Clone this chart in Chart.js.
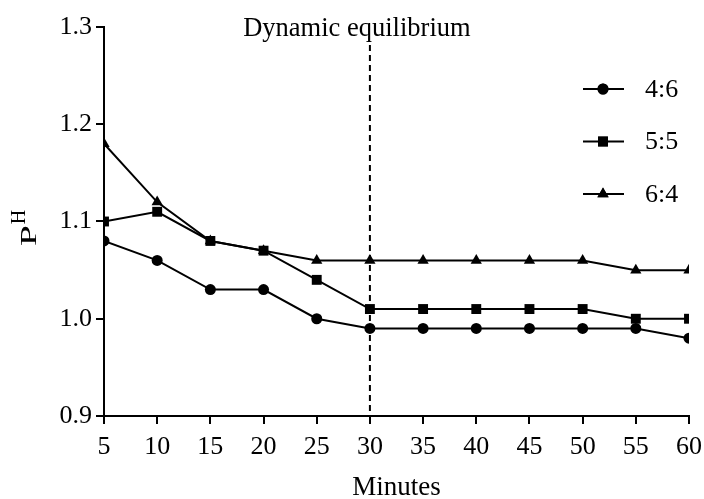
<!DOCTYPE html>
<html>
<head>
<meta charset="utf-8">
<script src="https://cdn.jsdelivr.net/npm/chart.js@4.4.1/dist/chart.umd.min.js"></script>
<style>
    html, body { margin: 0; padding: 0; background: #fff; }
    #wrap { width: 704px; height: 499px; }
</style>
</head>
<body>
<div id="wrap"><canvas id="ph-chart"></canvas></div>
<script>
// 데이터
const minutes = [5, 10, 15, 20, 25, 30, 35, 40, 45, 50, 55, 60];
const ratio46 = [1.08, 1.06, 1.03, 1.03, 1.00, 0.99, 0.99, 0.99, 0.99, 0.99, 0.99, 0.98];
const ratio55 = [1.10, 1.11, 1.08, 1.07, 1.04, 1.01, 1.01, 1.01, 1.01, 1.01, 1.00, 1.00];
const ratio64 = [1.18, 1.12, 1.08, 1.07, 1.06, 1.06, 1.06, 1.06, 1.06, 1.06, 1.05, 1.05];
const seriesNames = ['4:6', '5:5', '6:4'];
const equilibriumAt = 30;
const equilibriumText = 'Dynamic equilibrium';

const SERIF = '"Liberation Serif", "Times New Roman", serif';

function toPoints(values) {
    return minutes.map((m, i) => ({ x: m, y: values[i] }));
}

function makeDataset(label, values, style, radius) {
    return {
        label: label,
        data: toPoints(values),
        borderColor: '#000',
        backgroundColor: '#000',
        borderWidth: 2,
        pointStyle: style,
        pointRadius: radius,
        pointHoverRadius: radius,
        pointBorderWidth: 0,
        tension: 0,
        fill: false
    };
}

// 점선 + 텍스트, y축 제목, 범례
const extrasPlugin = {
    id: 'extras',
    beforeDatasetsDraw(chart) {
        const { ctx, chartArea, scales } = chart;
        const x = scales.x.getPixelForValue(equilibriumAt);
        ctx.save();
        ctx.strokeStyle = '#000';
        ctx.lineWidth = 2;
        ctx.setLineDash([6, 4]);
        ctx.beginPath();
        ctx.moveTo(x, chartArea.top + 18);
        ctx.lineTo(x, chartArea.bottom);
        ctx.stroke();
        ctx.restore();
    },
    afterDraw(chart) {
        const { ctx, chartArea, scales } = chart;
        ctx.save();
        ctx.fillStyle = '#000';

        // 상단 텍스트
        ctx.font = '26.5px ' + SERIF;
        ctx.textAlign = 'center';
        ctx.textBaseline = 'alphabetic';
        ctx.fillText(equilibriumText, scales.x.getPixelForValue(equilibriumAt) - 13, chartArea.top + 9);

        // y축 제목 P^H
        ctx.translate(36, 246);
        ctx.rotate(-Math.PI / 2);
        ctx.textAlign = 'left';
        ctx.save();
        ctx.scale(1.55, 1);
        ctx.font = '24px ' + SERIF;
        ctx.fillText('P', 0, 0);
        const pw = ctx.measureText('P').width * 1.55;
        ctx.restore();
        ctx.font = '20px ' + SERIF;
        ctx.fillText('H', pw + 1, -11);
        ctx.setTransform(1, 0, 0, 1, 0, 0);

        // 범례
        const lx = chartArea.right - 106;
        chart.data.datasets.forEach((ds, i) => {
            const y = chartArea.top + 62 + i * 52.5;
            ctx.strokeStyle = '#000';
            ctx.lineWidth = 2;
            ctx.beginPath();
            ctx.moveTo(lx, y);
            ctx.lineTo(lx + 41, y);
            ctx.stroke();
            Chart.helpers.drawPoint(ctx, {
                pointStyle: ds.pointStyle,
                radius: ds.pointRadius,
                borderWidth: 0,
                rotation: 0
            }, lx + 20, y);
            ctx.fill();
            ctx.font = '26px ' + SERIF;
            ctx.textAlign = 'left';
            ctx.textBaseline = 'middle';
            ctx.fillText(ds.label, lx + 62, y + 1);
        });
        ctx.restore();
    }
};

const ctx = document.getElementById('ph-chart').getContext('2d');
new Chart(ctx, {
    type: 'line',
    data: {
        datasets: [
            makeDataset(seriesNames[0], ratio46, 'circle', 5.5),
            makeDataset(seriesNames[1], ratio55, 'rect', 7),
            makeDataset(seriesNames[2], ratio64, 'triangle', 6.5)
        ]
    },
    options: {
        responsive: true,
        maintainAspectRatio: false,
        animation: false,
        layout: { padding: { top: 27, right: 15, left: 0, bottom: 0 } },
        plugins: {
            legend: { display: false },
            tooltip: { enabled: false }
        },
        scales: {
            x: {
                type: 'linear',
                min: 5,
                max: 60,
                afterFit(scale) {
                    scale.height = 83;
                    scale.paddingLeft = 0;
                    scale.paddingRight = 0;
                },
                ticks: {
                    stepSize: 5,
                    color: '#000',
                    padding: 8,
                    maxRotation: 0,
                    font: { family: SERIF, size: 26 }
                },
                grid: {
                    display: true,
                    drawOnChartArea: false,
                    drawTicks: true,
                    tickLength: 8,
                    color: '#000',
                    lineWidth: 2
                },
                border: { display: true, color: '#000', width: 2 },
                title: {
                    display: true,
                    text: 'Minutes',
                    color: '#000',
                    padding: { top: 0, bottom: 0 },
                    font: { family: SERIF, size: 27, lineHeight: 0.85 }
                }
            },
            y: {
                min: 0.9,
                max: 1.3,
                afterFit(scale) {
                    scale.width = 104;
                    scale.paddingTop = 0;
                    scale.paddingBottom = 0;
                },
                ticks: {
                    stepSize: 0.1,
                    color: '#000',
                    padding: 4,
                    font: { family: SERIF, size: 26 },
                    callback: (v) => v.toFixed(1)
                },
                grid: {
                    display: true,
                    drawOnChartArea: false,
                    drawTicks: true,
                    tickLength: 8,
                    color: '#000',
                    lineWidth: 2
                },
                border: { display: true, color: '#000', width: 2 }
            }
        }
    },
    plugins: [extrasPlugin]
});
</script>
</body>
</html>
